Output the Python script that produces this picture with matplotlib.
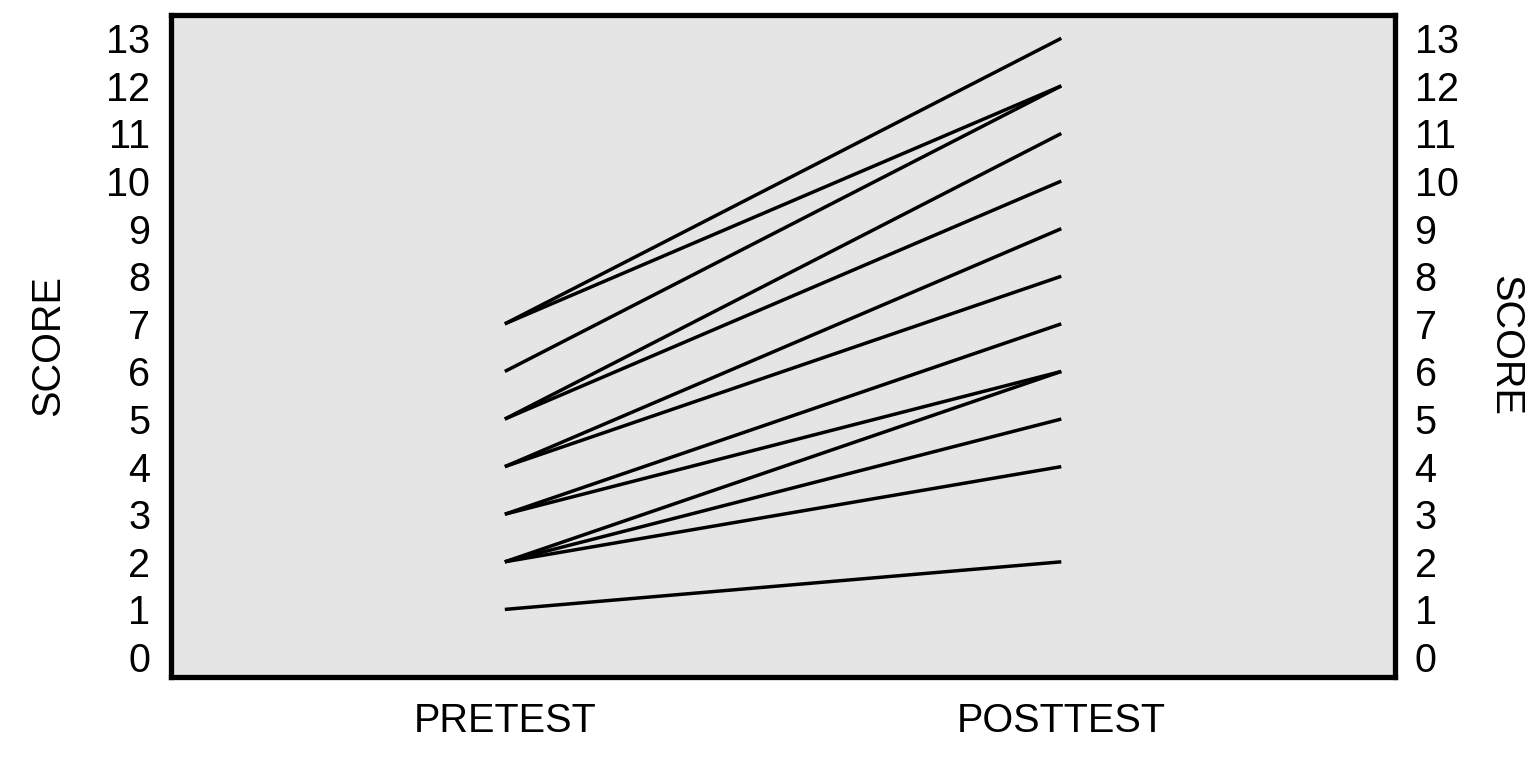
import matplotlib
matplotlib.use("Agg")
import matplotlib.pyplot as plt

plt.rcParams["font.family"] = ["Liberation Sans", "DejaVu Sans"]

# one line per subject: pretest score -> posttest score
pretest = [7, 7, 6, 5, 5, 4, 4, 3, 3, 2, 2, 2, 1]
posttest = [13, 12, 12, 11, 10, 9, 8, 7, 6, 6, 5, 4, 2]
phases = ["PRETEST", "POSTTEST"]
yticks = list(range(0, 14))
FS = 28.5

fig = plt.figure(figsize=(15.36, 7.68), dpi=100)
ax = fig.add_axes([0.1113, 0.1185, 0.797, 0.862])
ax.set_facecolor("#e5e5e5")

for a, b in zip(pretest, posttest):
    ax.plot([1, 2], [a, b], color="black", lw=2.5, solid_capstyle="butt")

ax.set_xlim(0.4, 2.6)
ax.set_ylim(-0.42, 13.49)
ax.set_xticks([1, 2])
ax.set_xticklabels(phases)
ax.set_yticks(yticks)
ax.tick_params(axis="both", length=0, labelsize=FS)
ax.tick_params(axis="x", pad=18)
ax.tick_params(axis="y", pad=15)
for s in ax.spines.values():
    s.set_linewidth(3.8)

# right-hand copy of the score axis
ax2 = ax.twinx()
ax2.set_ylim(ax.get_ylim())
ax2.set_yticks(yticks)
ax2.tick_params(axis="y", length=0, labelsize=FS, pad=14)
for s in ax2.spines.values():
    s.set_visible(False)

fig.text(48 / 1536, 1 - 346 / 768, "SCORE", fontsize=FS, rotation=90,
         ha="center", va="center")
fig.text(1505 / 1536, 1 - 346 / 768, "SCORE", fontsize=FS, rotation=270,
         ha="center", va="center")

fig.savefig("out.png", dpi=100)
